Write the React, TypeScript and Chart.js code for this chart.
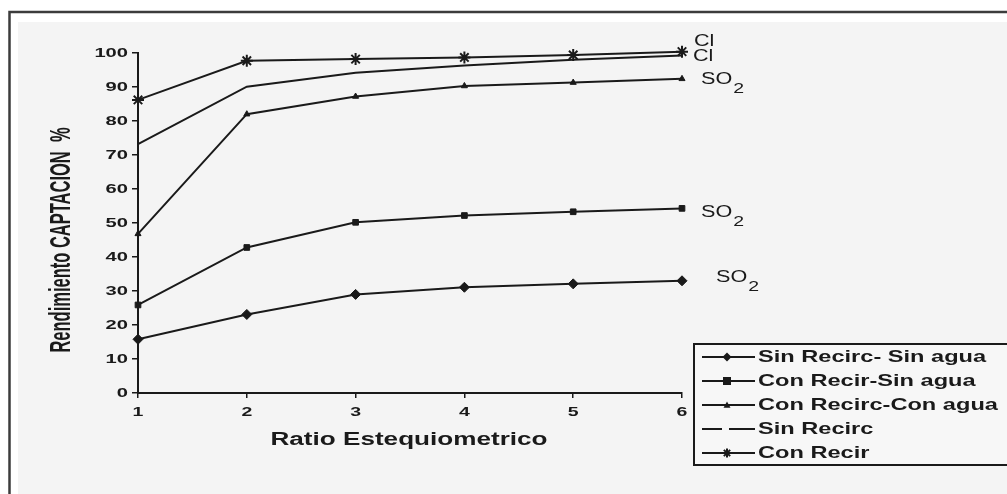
import React, { useEffect, useRef } from 'react';
import { Chart, registerables } from 'chart.js';

Chart.register(...registerables);

const W = 1007;
const H = 494;

// ---- data ----
const ratios = [1, 2, 3, 4, 5, 6];
const xTickLabels = ['1', '2', '3', '4', '5', '6'];
const yTickLabels = ['0', '10', '20', '30', '40', '50', '60', '70', '80', '90', '100'];

const sinRecircSinAgua = [15.8, 23.1, 29.0, 31.1, 32.1, 33.0];
const conRecirSinAgua = [25.9, 42.8, 50.2, 52.2, 53.3, 54.3];
const conRecircConAgua = [46.8, 82.0, 87.2, 90.3, 91.3, 92.4];
const sinRecirc = [73.2, 90.1, 94.2, 96.3, 98.0, 99.3];
const conRecir = [86.2, 97.7, 98.2, 98.7, 99.4, 100.4];

const seriesNames = [
  'Sin Recirc- Sin agua',
  'Con Recir-Sin agua',
  'Con Recirc-Con agua',
  'Sin Recirc',
  'Con Recir',
];
const seriesValues = [sinRecircSinAgua, conRecirSinAgua, conRecircConAgua, sinRecirc, conRecir];

// end-of-line labels: series index, main text, subscript
const endLabelSeries = [4, 3, 2, 1, 0];
const endLabelText = ['Cl', 'Cl', 'SO', 'SO', 'SO'];
const endLabelSub = ['', '', '2', '2', '2'];

const xTitle = 'Ratio Estequiometrico';
const yTitle = 'Rendimiento CAPTACION  %';

// ---- styles ----
const INK = '#1a1a1a';
const FONT = '"Liberation Sans", Arial, sans-serif';
const pointStyles: any[] = ['rectRot', 'rect', 'triangle', false, 'star'];
const pointRadii = [5, 4, 3.5, 0, 6];
const endLabelDx = [12, 11, 19, 19, 34];
const endLabelDy = [-10, 1, 1, 4, -3];

function stretchedText(
  ctx: CanvasRenderingContext2D,
  text: string,
  x: number,
  y: number,
  font: string,
  sx: number,
  align: CanvasTextAlign
) {
  ctx.save();
  ctx.translate(x, y);
  ctx.scale(sx, 1);
  ctx.font = font;
  ctx.textAlign = align;
  ctx.textBaseline = 'middle';
  ctx.fillStyle = INK;
  ctx.fillText(text, 0, 0);
  ctx.restore();
}

function drawMarker(ctx: CanvasRenderingContext2D, style: any, x: number, y: number, r: number) {
  ctx.save();
  ctx.fillStyle = INK;
  ctx.strokeStyle = INK;
  ctx.lineWidth = 2;
  ctx.beginPath();
  if (style === 'rectRot') {
    ctx.moveTo(x, y - r);
    ctx.lineTo(x + r, y);
    ctx.lineTo(x, y + r);
    ctx.lineTo(x - r, y);
    ctx.closePath();
    ctx.fill();
  } else if (style === 'rect') {
    ctx.rect(x - r, y - r, 2 * r, 2 * r);
    ctx.fill();
  } else if (style === 'triangle') {
    ctx.moveTo(x, y - r);
    ctx.lineTo(x + r, y + r * 0.8);
    ctx.lineTo(x - r, y + r * 0.8);
    ctx.closePath();
    ctx.fill();
  } else if (style === 'star') {
    ctx.moveTo(x, y - r);
    ctx.lineTo(x, y + r);
    ctx.moveTo(x - r * 0.7, y - r * 0.7);
    ctx.lineTo(x + r * 0.7, y + r * 0.7);
    ctx.moveTo(x + r * 0.7, y - r * 0.7);
    ctx.lineTo(x - r * 0.7, y + r * 0.7);
    ctx.stroke();
  }
  ctx.restore();
}

const paperPlugin = {
  id: 'paper',
  beforeDraw(chart: any) {
    const ctx: CanvasRenderingContext2D = chart.ctx;
    ctx.save();
    ctx.fillStyle = '#ffffff';
    ctx.fillRect(0, 0, W, H);
    ctx.fillStyle = '#f4f4f4';
    ctx.fillRect(18, 22, W, H);
    ctx.strokeStyle = '#3c3c3c';
    ctx.lineWidth = 2.5;
    ctx.strokeRect(9.5, 12, W + 20, H + 20);
    ctx.restore();
  },
  afterDraw(chart: any) {
    const ctx: CanvasRenderingContext2D = chart.ctx;
    const xs = chart.scales.x;
    const ys = chart.scales.y;
    const area = chart.chartArea;

    // tick labels (from the chart's own ticks)
    xs.ticks.forEach((t: any) => {
      stretchedText(ctx, String(t.label), xs.getPixelForValue(t.value), area.bottom + 19, `bold 13px ${FONT}`, 1.5, 'center');
    });
    ys.ticks.forEach((t: any) => {
      stretchedText(ctx, String(t.label), area.left - 10, ys.getPixelForValue(t.value), `bold 13px ${FONT}`, 1.55, 'right');
    });

    // axis titles
    stretchedText(ctx, xTitle, (area.left + area.right) / 2 - 1, area.bottom + 47, `bold 18px ${FONT}`, 1.45, 'center');
    ctx.save();
    ctx.translate(62, (area.top + area.bottom) / 2 + 17);
    ctx.rotate(-Math.PI / 2);
    ctx.scale(1, 1.75);
    ctx.font = `bold 16.5px ${FONT}`;
    ctx.textAlign = 'center';
    ctx.textBaseline = 'middle';
    ctx.fillStyle = INK;
    ctx.fillText(yTitle, 0, 0);
    ctx.restore();

    // end labels
    endLabelSeries.forEach((si, i) => {
      const vals = seriesValues[si];
      const px = xs.getPixelForValue(ratios[ratios.length - 1]) + endLabelDx[i];
      const py = ys.getPixelForValue(vals[vals.length - 1]) + endLabelDy[i];
      const font = `16px ${FONT}`;
      ctx.save();
      ctx.font = font;
      const w = ctx.measureText(endLabelText[i]).width * 1.35;
      ctx.restore();
      stretchedText(ctx, endLabelText[i], px, py, font, 1.35, 'left');
      if (endLabelSub[i]) {
        stretchedText(ctx, endLabelSub[i], px + w + 1, py + 9, `15px ${FONT}`, 1.3, 'left');
      }
    });

    // legend box
    const lx = 694;
    const ly = 344;
    const lb = 465;
    ctx.save();
    ctx.fillStyle = '#f7f7f7';
    ctx.fillRect(lx, ly, W - lx + 10, lb - ly);
    ctx.strokeStyle = INK;
    ctx.lineWidth = 2;
    ctx.strokeRect(lx, ly, W - lx + 10, lb - ly);
    ctx.restore();
    chart.data.datasets.forEach((ds: any, i: number) => {
      const cy = 357 + i * 24;
      ctx.save();
      ctx.strokeStyle = INK;
      ctx.lineWidth = 2;
      ctx.beginPath();
      if (ds.pointStyle === false) {
        ctx.moveTo(702, cy);
        ctx.lineTo(722, cy);
        ctx.moveTo(729, cy);
        ctx.lineTo(755, cy);
      } else {
        ctx.moveTo(702, cy);
        ctx.lineTo(755, cy);
      }
      ctx.stroke();
      ctx.restore();
      if (ds.pointStyle !== false) drawMarker(ctx, ds.pointStyle, 727, cy, Math.min(ds.pointRadius, 4.5));
      stretchedText(ctx, ds.label, 758, cy, `bold 16.5px ${FONT}`, 1.43, 'left');
    });
  },
};

export default function App() {
  const ref = useRef<HTMLCanvasElement>(null);
  useEffect(() => {
    if (!ref.current) return;
    const chart = new Chart(ref.current, {
      type: 'line',
      data: {
        datasets: seriesValues.map((vals, i) => ({
          label: seriesNames[i],
          data: vals.map((v, j) => ({ x: ratios[j], y: v })),
          borderColor: INK,
          backgroundColor: INK,
          borderWidth: 2,
          pointStyle: pointStyles[i],
          pointRadius: pointRadii[i],
          pointBorderWidth: pointStyles[i] === 'star' ? 2 : 1,
          pointBorderColor: INK,
          pointBackgroundColor: INK,
          tension: 0,
          fill: false,
          clip: false as any,
        })),
      },
      options: {
        responsive: false,
        animation: false,
        events: [],
        layout: { padding: { left: 0, right: W - 682, top: 53, bottom: H - 393 - 20 } },
        plugins: {
          legend: { display: false },
          tooltip: { enabled: false },
        },
        scales: {
          x: {
            type: 'linear',
            min: 1,
            max: 6,
            ticks: {
              stepSize: 1,
              display: false,
              callback: (v: any) => xTickLabels[ratios.indexOf(Number(v))] ?? '',
            },
            grid: { drawOnChartArea: false, drawTicks: true, tickLength: 5, color: INK, lineWidth: 1.5 },
            border: { display: true, color: INK, width: 2 },
            afterFit: (s: any) => {
              s.height = 20;
            },
          },
          y: {
            type: 'linear',
            min: 0,
            max: 100,
            ticks: {
              stepSize: 10,
              display: false,
              callback: (v: any) => yTickLabels[Math.round(Number(v) / 10)] ?? '',
            },
            grid: { drawOnChartArea: false, drawTicks: true, tickLength: 6, color: INK, lineWidth: 1.5 },
            border: { display: true, color: INK, width: 2 },
            afterFit: (s: any) => {
              s.width = 138;
            },
          },
        },
      },
      plugins: [paperPlugin],
    });
    return () => chart.destroy();
  }, []);
  return (
    <div style={{ position: 'fixed', left: 0, top: 0, width: W, height: H, background: '#fff' }}>
      <canvas ref={ref} width={W} height={H} style={{ display: 'block', width: W, height: H }} />
    </div>
  );
}
